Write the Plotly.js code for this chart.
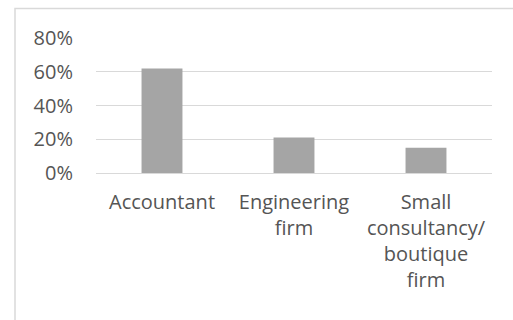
<!DOCTYPE html>
<html>
<head>
<meta charset="utf-8">
<script src="https://cdn.plot.ly/plotly-3.0.1.min.js"></script>
<style>html,body{margin:0;padding:0;background:#fff;}#chart{width:513px;height:320px;}</style>
</head>
<body>
<div id="chart"></div>
<script>
const categories = ["Accountant", "Engineering<br>firm", "Small<br>consultancy/<br>boutique<br>firm"];
const values = [62, 21, 15];
const tickVals = [0, 20, 40, 60, 80];
const tickText = ["0%", "20%", "40%", "60%", "80%"];

const W = 513, H = 320;
const trace = {
  type: "bar",
  x: categories,
  y: values,
  marker: {color: "#a5a5a5"},
  hoverinfo: "none"
};
const layout = {
  width: W, height: H,
  margin: {l: 96, r: 21, t: 38, b: 146.5, pad: 0},
  paper_bgcolor: "#ffffff",
  plot_bgcolor: "#ffffff",
  showlegend: false,
  bargap: 0.69,
  font: {family: "Open Sans, sans-serif", color: "#555555", size: 20},
  xaxis: {
    type: "category",
    showgrid: false,
    showline: false,
    zeroline: false,
    ticks: "",
    tickfont: {size: 20, color: "#555555"},
    ticklabelstandoff: 15,
    tickangle: 0
  },
  yaxis: {
    range: [0, 80],
    tickvals: tickVals,
    ticktext: tickText,
    showgrid: true,
    gridcolor: "#d9d9d9",
    gridwidth: 1,
    zeroline: true,
    zerolinecolor: "#d9d9d9",
    zerolinewidth: 1,
    showline: false,
    ticks: "",
    tickfont: {size: 20, color: "#555555"},
    ticklabelstandoff: 22
  },
  shapes: [{
    type: "rect", xref: "paper", yref: "paper",
    x0: -81/396, x1: 1.2, y0: -2, y1: 1 + 29.5/135.5,
    line: {color: "#d9d9d9", width: 1.5},
    fillcolor: "rgba(0,0,0,0)",
    layer: "below"
  }]
};
Plotly.newPlot("chart", [trace], layout, {staticPlot: true, displayModeBar: false});
</script>
</body>
</html>
